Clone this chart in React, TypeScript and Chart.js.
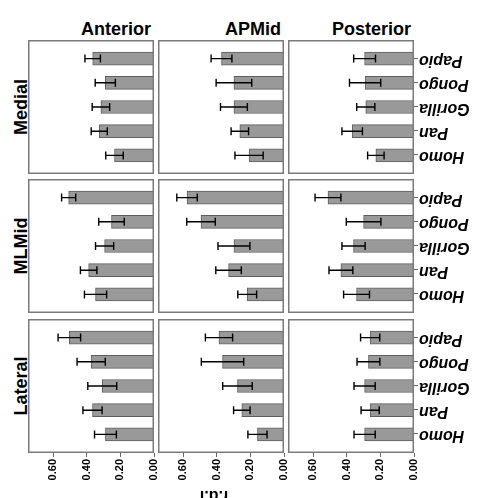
import React, { useEffect, useRef } from "react";
import { Chart, registerables } from "chart.js";

Chart.register(...registerables);

const FONT = 'Arial, "Liberation Sans", sans-serif';
Chart.defaults.font.family = FONT;

// ---- data ----
const genera = ["Papio", "Pongo", "Gorilla", "Pan", "Homo"];
const apRegions = ["Anterior", "APMid", "Posterior"];
const mlRegions = ["Medial", "MLMid", "Lateral"];
const xTickStep = 0.2;
const xMax = 0.75;
const axisTitle = "r.d.i";

const medialAnterior = [0.365, 0.29, 0.316, 0.326, 0.235];
const medialAnteriorErr = [0.046, 0.06, 0.052, 0.048, 0.052];
const medialAPMid = [0.372, 0.298, 0.298, 0.263, 0.208];
const medialAPMidErr = [0.062, 0.106, 0.08, 0.052, 0.084];
const medialPosterior = [0.294, 0.291, 0.287, 0.368, 0.227];
const medialPosteriorErr = [0.065, 0.093, 0.054, 0.061, 0.049];

const mlmidAnterior = [0.508, 0.253, 0.294, 0.389, 0.348];
const mlmidAnteriorErr = [0.042, 0.076, 0.054, 0.049, 0.066];
const mlmidAPMid = [0.577, 0.494, 0.298, 0.33, 0.219];
const mlmidAPMidErr = [0.061, 0.085, 0.095, 0.076, 0.056];
const mlmidPosterior = [0.512, 0.3, 0.36, 0.435, 0.342];
const mlmidPosteriorErr = [0.077, 0.103, 0.069, 0.071, 0.077];

const lateralAnterior = [0.504, 0.374, 0.308, 0.366, 0.289];
const lateralAnteriorErr = [0.067, 0.084, 0.086, 0.057, 0.065];
const lateralAPMid = [0.387, 0.366, 0.277, 0.251, 0.158];
const lateralAPMidErr = [0.081, 0.126, 0.088, 0.049, 0.057];
const lateralPosterior = [0.261, 0.271, 0.294, 0.261, 0.294];
const lateralPosteriorErr = [0.057, 0.068, 0.063, 0.054, 0.063];

const grid: number[][][] = [
  [medialAnterior, medialAPMid, medialPosterior],
  [mlmidAnterior, mlmidAPMid, mlmidPosterior],
  [lateralAnterior, lateralAPMid, lateralPosterior],
];
const gridErr: number[][][] = [
  [medialAnteriorErr, medialAPMidErr, medialPosteriorErr],
  [mlmidAnteriorErr, mlmidAPMidErr, mlmidPosteriorErr],
  [lateralAnteriorErr, lateralAPMidErr, lateralPosteriorErr],
];

// ---- layout ----
const COL_LEFT = [28, 158, 288];
const ROW_TOP = [40, 179, 319];
const PANEL_W = 126;
const PANEL_H = 134;

const boxPlugin = {
  id: "panelBox",
  afterDatasetsDraw(chart: any) {
    const { ctx, chartArea } = chart;
    const ds = chart.data.datasets[0];
    const xs = chart.scales.x;
    const meta = chart.getDatasetMeta(0);
    ctx.save();
    // error bars
    ctx.strokeStyle = "#000";
    ctx.lineWidth = 1.4;
    meta.data.forEach((bar: any, i: number) => {
      const v = ds.data[i].x;
      const e = ds.errors[i];
      const x1 = xs.getPixelForValue(v - e);
      const x2 = xs.getPixelForValue(v + e);
      const y = bar.y;
      ctx.beginPath();
      ctx.moveTo(x1, y);
      ctx.lineTo(x2, y);
      ctx.moveTo(x1, y - 4);
      ctx.lineTo(x1, y + 4);
      ctx.moveTo(x2, y - 4);
      ctx.lineTo(x2, y + 4);
      ctx.stroke();
    });
    // panel box
    ctx.strokeStyle = "#7a7a7a";
    ctx.lineWidth = 1.5;
    const l = Math.round(chartArea.left) + 0.75;
    const t = Math.round(chartArea.top) + 0.75;
    const r = Math.round(chartArea.right) - 0.75;
    const b = Math.round(chartArea.bottom) - 0.75;
    ctx.strokeRect(l, t, r - l, b - t);
    // genus labels on the right column
    if (ds.showLabels) {
      const ys = chart.scales.y;
      ctx.font = `italic bold 16px ${FONT}`;
      ctx.fillStyle = "#000";
      ctx.strokeStyle = "#666";
      ctx.lineWidth = 1;
      genera.forEach((g, i) => {
        const y = ys.getPixelForValue(i);
        ctx.beginPath();
        ctx.moveTo(chartArea.right, Math.round(y) - 0.5);
        ctx.lineTo(chartArea.right + 4, Math.round(y) - 0.5);
        ctx.stroke();
        ctx.save();
        ctx.translate(chartArea.right + 5, y + 1.5);
        ctx.rotate(Math.PI);
        ctx.textAlign = "right";
        ctx.textBaseline = "middle";
        ctx.fillText(g, 0, 0);
        ctx.restore();
      });
    }
    ctx.restore();
  },
};

function Panel({ row, col }: { row: number; col: number }) {
  const ref = useRef<HTMLCanvasElement>(null);
  const isBottom = row === 2;
  const isRight = col === 2;
  const padR = isRight ? 70 : isBottom ? 8 : 0;
  const axisH = isBottom ? 40 : 0;
  const width = PANEL_W + padR;
  const height = PANEL_H + axisH;

  useEffect(() => {
    const means = grid[row][col];
    const errs = gridErr[row][col];
    const chart = new Chart(ref.current as HTMLCanvasElement, {
      type: "bar",
      data: {
        datasets: [
          {
            data: genera.map((g, i) => ({ x: means[i], y: i })),
            errors: errs,
            showLabels: isRight,
            backgroundColor: "#999999",
            borderColor: "#5e5e5e",
            borderWidth: 1,
            barThickness: 13,
          } as any,
        ],
      },
      options: {
        responsive: false,
        animation: false,
        indexAxis: "y",
        layout: { padding: { left: 0, top: 0, bottom: 0, right: padR } },
        plugins: { legend: { display: false }, tooltip: { enabled: false } },
        scales: {
          x: {
            type: "linear",
            reverse: true,
            min: 0,
            max: xMax,
            offset: false,
            display: isBottom,
            border: { display: false },
            grid: {
              drawOnChartArea: false,
              drawTicks: true,
              tickLength: 4,
              color: "#666",
            },
            ticks: {
              stepSize: xTickStep,
              includeBounds: false,
              autoSkip: false,
              minRotation: 90,
              maxRotation: 90,
              padding: 2,
              color: "#000",
              font: { size: 11, weight: "bold" },
              callback: (v: any) => Number(v).toFixed(2),
            },
            afterFit: (s: any) => {
              s.height = axisH;
              s.paddingLeft = 0;
              s.paddingRight = 0;
            },
          },
          y: {
            type: "linear",
            min: -0.77,
            max: 4.77,
            reverse: true,
            offset: false,
            bounds: "data",
            display: false,
            ticks: { stepSize: 1, includeBounds: false },
          },
        },
      },
      plugins: [boxPlugin],
    } as any);
    return () => chart.destroy();
  }, []);

  return (
    <canvas
      ref={ref}
      width={width}
      height={height}
      style={{ position: "absolute", left: COL_LEFT[col], top: ROW_TOP[row], width, height }}
    />
  );
}

export default function App() {
  const titleStyle: React.CSSProperties = {
    position: "absolute",
    font: `bold 18px ${FONT}`,
    lineHeight: "18px",
    color: "#000",
    whiteSpace: "nowrap",
  };
  return (
    <div
      style={{
        position: "absolute",
        left: 0,
        top: 0,
        width: 482,
        height: 498,
        overflow: "hidden",
        background: "#fff",
      }}
    >
      {apRegions.map((t, c) => (
        <div
          key={t}
          style={{ ...titleStyle, left: COL_LEFT[c], top: 20, width: PANEL_W - 3, textAlign: "right" }}
        >
          {t}
        </div>
      ))}
      {mlRegions.map((t, r) => (
        <div
          key={t}
          style={{
            ...titleStyle,
            left: 20.5 - 50,
            top: ROW_TOP[r] + PANEL_H / 2 - 9,
            width: 100,
            height: 18,
            textAlign: "center",
            transform: "rotate(-90deg)",
          }}
        >
          {t}
        </div>
      ))}
      {[0, 1, 2].map((r) =>
        [0, 1, 2].map((c) => <Panel key={`${r}-${c}`} row={r} col={c} />)
      )}
      <div
        style={{
          ...titleStyle,
          font: `bold 16px ${FONT}`,
          lineHeight: "16px",
          left: 214 - 30,
          top: 487.5,
          width: 60,
          height: 16,
          textAlign: "center",
          transform: "rotate(180deg)",
        }}
      >
        {axisTitle}
      </div>
    </div>
  );
}
